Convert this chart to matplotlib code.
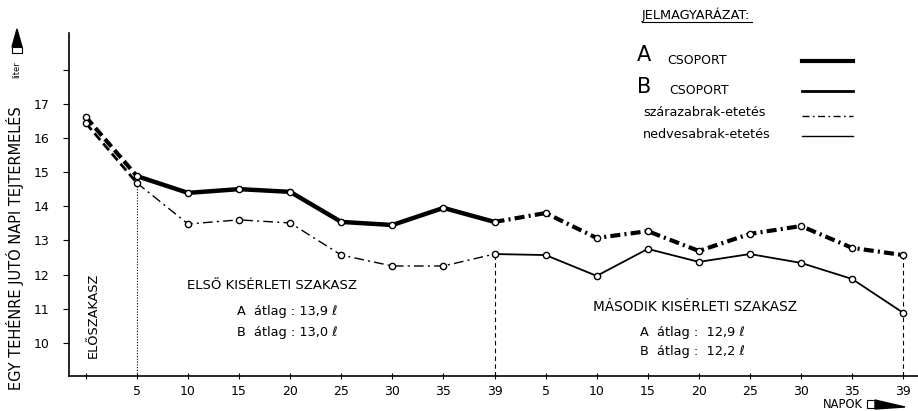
import matplotlib
matplotlib.use("Agg")
import matplotlib.pyplot as plt
from matplotlib.lines import Line2D
from matplotlib.patches import Polygon, Rectangle

plt.rcParams['font.family'] = ['DejaVu Sans']

# ---- data ----
day_labels = ["", "5", "10", "15", "20", "25", "30", "35", "39",
              "5", "10", "15", "20", "25", "30", "35", "39"]
group_a = [16.61, 14.88, 14.39, 14.50, 14.42, 13.54, 13.45, 13.95, 13.54,
           13.80, 13.07, 13.27, 12.69, 13.19, 13.42, 12.78, 12.57]
group_b = [16.43, 14.68, 13.48, 13.60, 13.51, 12.57, 12.25, 12.25, 12.60,
           12.57, 11.96, 12.75, 12.37, 12.60, 12.34, 11.87, 10.88]
y_ticks = [10, 11, 12, 13, 14, 15, 16, 17, 18]
y_tick_labels = ["10", "11", "12", "13", "14", "15", "16", "17", ""]

W, H = 918, 411
fig = plt.figure(figsize=(W / 100, H / 100), dpi=100)


def fx(x):
    return x / W


def fy(y):
    return 1 - y / H


ax = fig.add_axes([fx(69), fy(376), fx(918) - fx(69), fy(33) - fy(376)])
x = list(range(len(group_a)))

# pre-period (dashed)
ax.plot(x[0:2], group_a[0:2], color='black', lw=3.0, dashes=(2.4, 1.1), solid_capstyle='butt')
ax.plot(x[0:2], group_b[0:2], color='black', lw=2.0, dashes=(3.2, 1.6))
# first experimental period
ax.plot(x[1:9], group_a[1:9], color='black', lw=3.2, solid_joinstyle='round')
ax.plot(x[1:9], group_b[1:9], color='black', lw=1.0, dashes=(7, 3, 1.5, 3))
# second experimental period
ax.plot(x[8:], group_a[8:], color='black', lw=3.0, dashes=(2.4, 1.0, 0.5, 1.0))
ax.plot(x[8:], group_b[8:], color='black', lw=1.3, solid_joinstyle='round')
# markers
ax.plot(x, group_a, 'o', ms=4.5, mfc='white', mec='black', mew=1.0, zorder=5)
ax.plot(x, group_b, 'o', ms=4.5, mfc='white', mec='black', mew=1.0, zorder=5)

ymin, ymax = 9.03, 19.07
ax.set_xlim(-0.33, 16.29)
ax.set_ylim(ymin, ymax)

# vertical separators
ax.plot([1, 1], [ymin, group_b[1]], color='black', lw=0.8, dashes=(1, 1.5), zorder=1)
ax.plot([8, 8], [ymin, group_b[8]], color='black', lw=0.8, dashes=(4, 3), zorder=1)
ax.plot([16, 16], [ymin, group_a[16]], color='black', lw=0.8, dashes=(4, 3), zorder=1)

for s in ['top', 'right']:
    ax.spines[s].set_visible(False)
for s in ['left', 'bottom']:
    ax.spines[s].set_linewidth(1.2)

ax.set_xticks(x)
ax.set_xticklabels(day_labels, fontsize=9)
ax.set_yticks(y_ticks)
ax.set_yticklabels(y_tick_labels, fontsize=9)
ax.tick_params(axis='x', direction='inout', length=5, width=0.8, pad=4)
ax.tick_params(axis='y', direction='out', length=4, width=0.8, pad=10)

# ---- texts ----
fig.text(fx(15), fy(248), "EGY TEHÉNRE JUTÓ NAPI TEJTERMELÉS", rotation=90,
         ha='center', va='center', fontsize=10.5)
fig.text(fx(17), fy(70), "liter", rotation=90, ha='center', va='center', fontsize=6)
fig.text(fx(93), fy(315), "ELŐSZAKASZ", rotation=90, ha='center', va='center', fontsize=9.3)

fig.text(fx(272), fy(285), "ELSŐ KISÉRLETI SZAKASZ", ha='center', va='center', fontsize=9.5)
fig.text(fx(237), fy(311), "A  átlag : 13,9 ℓ", ha='left', va='center', fontsize=9.3)
fig.text(fx(237), fy(332), "B  átlag : 13,0 ℓ", ha='left', va='center', fontsize=9.3)

fig.text(fx(695), fy(307), "MÁSODIK KISÉRLETI SZAKASZ", ha='center', va='center', fontsize=9.8)
fig.text(fx(640), fy(332), "A  átlag :  12,9 ℓ", ha='left', va='center', fontsize=9.3)
fig.text(fx(640), fy(352), "B  átlag :  12,2 ℓ", ha='left', va='center', fontsize=9.3)

fig.text(fx(843), fy(404), "NAPOK", ha='center', va='center', fontsize=8.3)

# legend
fig.text(fx(642), fy(15), "JELMAGYARÁZAT:", ha='left', va='center', fontsize=9.3)
fig.add_artist(Line2D([fx(642), fx(752)], [fy(22), fy(22)], color='black', lw=0.8,
                      transform=fig.transFigure))
fig.text(fx(637), fy(55), "A", ha='left', va='center', fontsize=15)
fig.text(fx(667), fy(60), "CSOPORT", ha='left', va='center', fontsize=9)
fig.text(fx(637), fy(87), "B", ha='left', va='center', fontsize=15)
fig.text(fx(669), fy(90), "CSOPORT", ha='left', va='center', fontsize=9)
fig.text(fx(643), fy(113), "szárazabrak-etetés", ha='left', va='center', fontsize=9.2)
fig.text(fx(643), fy(134), "nedvesabrak-etetés", ha='left', va='center', fontsize=9.2)

leg_x = [fx(802), fx(853)]
fig.add_artist(Line2D(leg_x, [fy(61), fy(61)], color='black', lw=3.0, transform=fig.transFigure))
fig.add_artist(Line2D(leg_x, [fy(91), fy(91)], color='black', lw=2.0, transform=fig.transFigure))
fig.add_artist(Line2D(leg_x, [fy(116), fy(116)], color='black', lw=1.0, dashes=(5, 2.5, 1.2, 2.5),
                      transform=fig.transFigure))
fig.add_artist(Line2D(leg_x, [fy(136), fy(136)], color='black', lw=1.0, transform=fig.transFigure))

# arrows
fig.add_artist(Polygon([(fx(12), fy(47)), (fx(17), fy(29)), (fx(22), fy(47))], closed=True,
                       color='black', transform=fig.transFigure))
fig.add_artist(Rectangle((fx(12), fy(53)), fx(10), fy(47) - fy(53), fill=False, lw=0.8,
                         edgecolor='black', transform=fig.transFigure))
fig.add_artist(Rectangle((fx(867), fy(408)), fx(8), fy(400) - fy(408), fill=False, lw=0.8,
                         edgecolor='black', transform=fig.transFigure))
fig.add_artist(Polygon([(fx(875), fy(400)), (fx(875), fy(409)), (fx(905), fy(407))], closed=True,
                       color='black', transform=fig.transFigure))

fig.savefig("out.png", dpi=100)
